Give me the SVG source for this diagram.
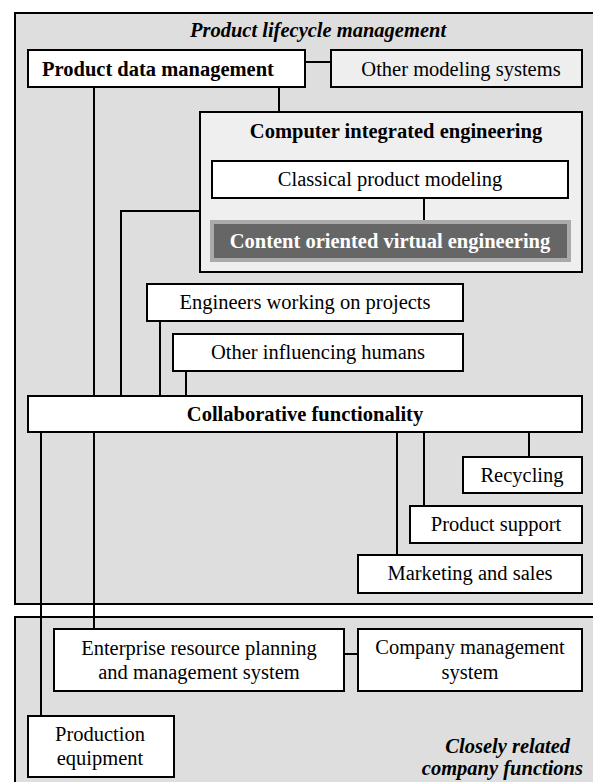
<svg xmlns="http://www.w3.org/2000/svg" width="593" height="782" viewBox="0 0 593 782">
<style>
text{font-family:"Liberation Serif","Times New Roman",serif;font-size:20.5px;fill:#000}
.b{font-weight:bold}
.t{font-weight:bold;font-style:italic}
.c{text-anchor:middle}
.e{text-anchor:end}
.w{fill:#fff}
.node{fill:#fff;stroke:#000;stroke-width:2}
.area{fill:#dedede;stroke:#000;stroke-width:2}
.ln{fill:none;stroke:#000;stroke-width:2}
</style>
<rect width="593" height="782" fill="#fff"/>
<g id="plm">
<rect class="area" x="15" y="13" width="580" height="591"/>
<text class="t c" x="318" y="37">Product lifecycle management</text>
</g>
<g id="company">
<rect class="area" x="15" y="617" width="580" height="180"/>
<text class="t e" x="570" y="753">Closely related</text>
<text class="t e" x="583" y="775">company functions</text>
</g>
<g id="cie">
<rect x="200" y="112" width="382" height="160" fill="#efefef" stroke="#000" stroke-width="2"/>
<text class="b c" x="396" y="138">Computer integrated engineering</text>
</g>
<g id="connectors">
<path class="ln" d="M305 62H331 M94 87V396 M279 87V112 M424 198V221 M200 211H121V396 M160 321V396 M186 371V396 M41 432V716 M94 432V629 M397 432V555 M424 432V506 M529 432V457 M344 654H358"/>
</g>
<g id="pdm">
<rect class="node" x="28" y="50" width="277" height="37"/>
<text class="b" x="42" y="76">Product data management</text>
</g>
<g id="other-modeling">
<rect x="331" y="50" width="251" height="37" fill="#eee" stroke="#000" stroke-width="2"/>
<text class="c" x="461" y="76">Other modeling systems</text>
</g>
<g id="classical">
<rect class="node" x="212" y="161" width="356" height="37"/>
<text class="c" x="390" y="186">Classical product modeling</text>
</g>
<g id="cove">
<rect x="212" y="222" width="357" height="38" fill="#666" stroke="#aaa" stroke-width="4"/>
<text class="b c w" x="390" y="248">Content oriented virtual engineering</text>
</g>
<g id="engineers">
<rect class="node" x="147" y="284" width="316" height="37"/>
<text class="c" x="305" y="309">Engineers working on projects</text>
</g>
<g id="humans">
<rect class="node" x="173" y="334" width="290" height="37"/>
<text class="c" x="318" y="359">Other influencing humans</text>
</g>
<g id="collab">
<rect class="node" x="28" y="396" width="554" height="36"/>
<text class="b c" x="305" y="421">Collaborative functionality</text>
</g>
<g id="recycling">
<rect class="node" x="463" y="457" width="119" height="36"/>
<text class="c" x="522" y="482">Recycling</text>
</g>
<g id="support">
<rect class="node" x="410" y="506" width="172" height="37"/>
<text class="c" x="496" y="531">Product support</text>
</g>
<g id="marketing">
<rect class="node" x="358" y="555" width="224" height="38"/>
<text class="c" x="470" y="580">Marketing and sales</text>
</g>
<g id="erp">
<rect class="node" x="54" y="629" width="290" height="62"/>
<text class="c" x="199" y="655">Enterprise resource planning</text>
<text class="c" x="199" y="679">and management system</text>
</g>
<g id="cms">
<rect class="node" x="358" y="629" width="224" height="62"/>
<text class="c" x="470" y="654">Company management</text>
<text class="c" x="470" y="679">system</text>
</g>
<g id="production">
<rect class="node" x="28" y="716" width="146" height="61"/>
<text class="c" x="100" y="741">Production</text>
<text class="c" x="100" y="765">equipment</text>
</g>
</svg>
